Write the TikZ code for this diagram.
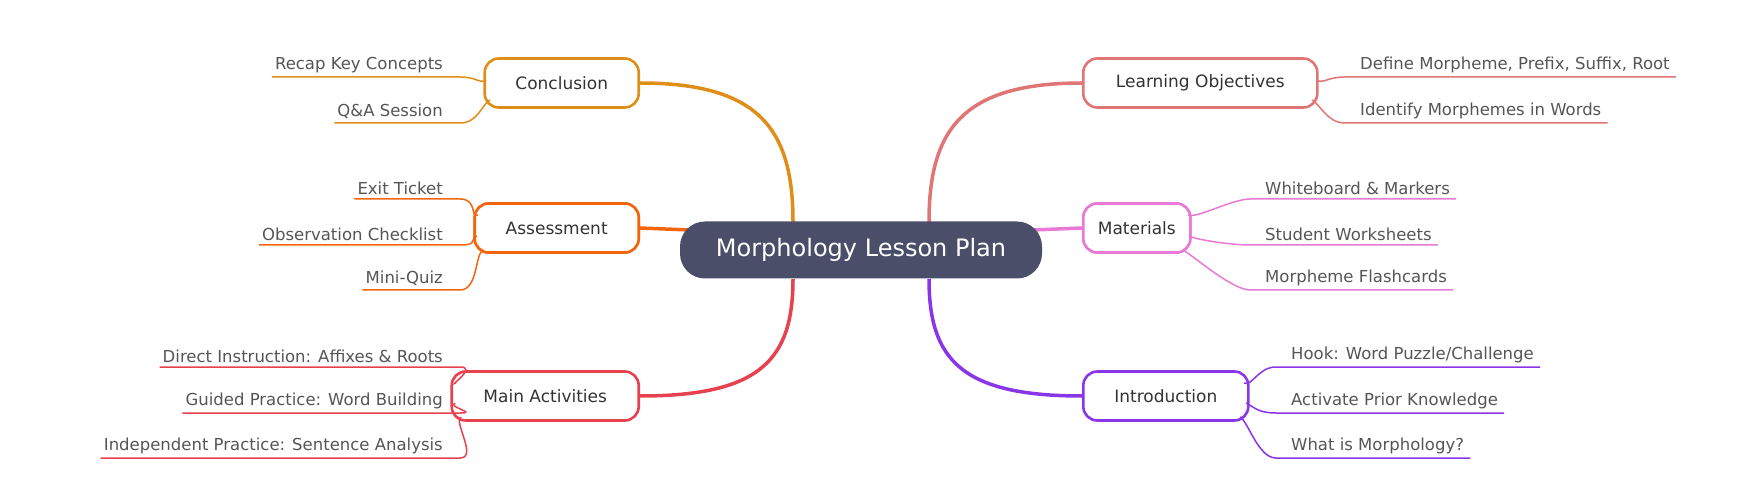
\documentclass[tikz,border=0pt]{standalone}
\usepackage{fontspec}
\setmainfont{DejaVu Sans}
\definecolor{cconc}{HTML}{E08E1A}
\definecolor{cass}{HTML}{F4650F}
\definecolor{cmain}{HTML}{E5414F}
\definecolor{clo}{HTML}{E07575}
\definecolor{cmat}{HTML}{E879D5}
\definecolor{cint}{HTML}{8A35E8}
\definecolor{ccen}{HTML}{4A4E69}
\definecolor{ctxt}{HTML}{555555}
\begin{document}
\begin{tikzpicture}[x=1pt,y=-1pt,
 br/.style={draw=#1,line width=2.6pt,fill=white,rounded corners=14pt,minimum height=49pt,inner xsep=12pt,font=\fontsize{17}{20}\selectfont,text=black!80},
 leaf/.style={inner xsep=3pt,inner ysep=4pt,font=\fontsize{16.5}{19}\selectfont,text=ctxt},
 ll/.style={draw=#1,line width=1.5pt},
 bl/.style={draw=#1,line width=3.5pt},
 cen/.style={fill=ccen,text=white,rounded corners=25pt,minimum width=362pt,minimum height=57pt,font=\fontsize{24}{28}\selectfont}]
\useasboundingbox (0,0) rectangle (1742,502);
\coordinate (cnw) at (793,222); \coordinate (csw) at (793,279);
\coordinate (cne) at (929,222); \coordinate (cse) at (929,279);
\coordinate (cw) at (690,230); \coordinate (ce) at (1032,230);
% branch nodes
\node[br=cconc,anchor=east,minimum width=154pt] (conc) at (640,83) {Conclusion};
\node[br=cass,anchor=east,minimum width=164pt] (ass) at (640,228) {Assessment};
\node[br=cmain,anchor=east,minimum width=187pt] (main) at (640,396) {Main Activities};
\node[br=clo,anchor=west,minimum width=234pt] (lo) at (1082,83) {Learning Objectives};
\node[br=cmat,anchor=west,minimum width=107pt] (mat) at (1082,228) {Materials};
\node[br=cint,anchor=west,minimum width=165pt] (int) at (1082,396) {Introduction};
% branch connectors
\draw[bl=cconc] (conc.east) .. controls (760,83) and (793,130) .. (cnw);
\draw[bl=cmain] (main.east) .. controls (760,396) and (793,360) .. (csw);
\draw[bl=cass] (ass.east) -- (cw);
\draw[bl=clo] (lo.west) .. controls (962,83) and (929,130) .. (cne);
\draw[bl=cint] (int.west) .. controls (962,396) and (929,360) .. (cse);
\draw[bl=cmat] (mat.west) -- (ce);
\node[cen] (c) at (861,250) {Morphology Lesson Plan};
\node[br=cass,anchor=east,minimum width=164pt] at (640,228) {Assessment};
\node[br=cmat,anchor=west,minimum width=107pt] at (1082,228) {Materials};
% left leaves
\foreach \n/\t/\y/\c/\tx/\ty in {
 a1/{Recap Key Concepts}/77/cconc/486/80,
 a2/{Q\&A Session}/123/cconc/490/100,
 b1/{Exit Ticket}/199/cass/478/215,
 b2/{Observation Checklist}/245/cass/477/236,
 b3/{Mini-Quiz}/290/cass/483/250,
 m1/{Direct Instruction: Affixes \& Roots}/367/cmain/456/383,
 m2/{Guided Practice: Word Building}/413/cmain/455/403,
 m3/{Independent Practice: Sentence Analysis}/458/cmain/461/417}{
 \node[leaf,anchor=south east] (\n) at (446,\y) {\t};
 \coordinate (\n e) at (460,\y);
 \draw[ll=\c] (\n.south west) -- (\n e) .. controls ++(18,0) and (\tx-8,\ty+4) .. (\tx,\ty);
}
% right leaves
\foreach \n/\t/\y/\c/\x/\tx/\ty in {
 r1/{Define Morpheme, Prefix, Suffix, Root}/77/clo/1345/1316/80,
 r2/{Identify Morphemes in Words}/123/clo/1345/1312/100,
 s1/{Whiteboard \& Markers}/199/cmat/1250/1188/215,
 s2/{Student Worksheets}/245/cmat/1250/1189/236,
 s3/{Morpheme Flashcards}/290/cmat/1250/1183/250,
 i1/{Hook: Word Puzzle/Challenge}/367/cint/1276/1244/383,
 i2/{Activate Prior Knowledge}/413/cint/1276/1246/403,
 i3/{What is Morphology?}/458/cint/1276/1240/417}{
 \coordinate (\n s) at (\x,\y);
 \node[leaf,anchor=south west] (\n) at (\x+12,\y) {\t};
 \draw[ll=\c] ([xshift=3pt]\n.south east) -- (\n s) .. controls ++(-18,0) and (\tx+8,\ty+4) .. (\tx,\ty);
}
\end{tikzpicture}
\end{document}
